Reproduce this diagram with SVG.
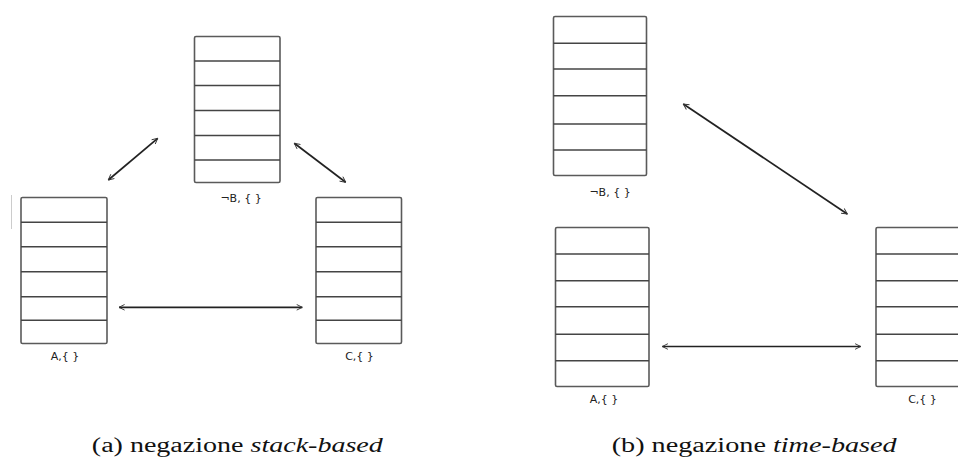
<svg xmlns="http://www.w3.org/2000/svg" width="958" height="457" viewBox="0 0 958 457">
  <defs>
    <marker id="head" viewBox="0 0 10 10" refX="9" refY="5" markerWidth="7" markerHeight="7" orient="auto-start-reverse" markerUnits="userSpaceOnUse">
      <path d="M1,1 L9,5 L1,9" fill="none" stroke="#333" stroke-width="1.3"/>
    </marker>
  </defs>
  <style>
    .box { fill: #fff; stroke: #5a5a5a; stroke-width: 1.6; }
    .row { stroke: #444; stroke-width: 1.6; }
    .lbl { font-family: "DejaVu Sans", "Liberation Sans", sans-serif; font-size: 11px; fill: #222; text-anchor: middle; }
    .edge { stroke: #222; stroke-width: 1.7; fill: none; marker-start: url(#head); marker-end: url(#head); }
    .cap { font-family: "Liberation Serif", "Times New Roman", serif; font-size: 20px; fill: #111; text-anchor: middle; }
  </style>
  <rect width="958" height="457" fill="#fff"/>

  <!-- (a) stack-based -->
  <g id="a-stack-B">
    <rect class="box" x="194.5" y="36.5" width="85.5" height="146" rx="1.5"/>
    <line class="row" x1="194.5" y1="61" x2="280" y2="61"/>
    <line class="row" x1="194.5" y1="85.5" x2="280" y2="85.5"/>
    <line class="row" x1="194.5" y1="110.5" x2="280" y2="110.5"/>
    <line class="row" x1="194.5" y1="135.5" x2="280" y2="135.5"/>
    <line class="row" x1="194.5" y1="160" x2="280" y2="160"/>
    <text class="lbl" x="241" y="202">¬B, { }</text>
  </g>
  <g id="a-stack-A">
    <line x1="11.5" y1="195" x2="11.5" y2="229" stroke="#ccc" stroke-width="1"/>
    <rect class="box" x="21" y="197.5" width="86" height="146" rx="1.5"/>
    <line class="row" x1="21" y1="222.3" x2="107" y2="222.3"/>
    <line class="row" x1="21" y1="246.7" x2="107" y2="246.7"/>
    <line class="row" x1="21" y1="271.7" x2="107" y2="271.7"/>
    <line class="row" x1="21" y1="296.7" x2="107" y2="296.7"/>
    <line class="row" x1="21" y1="320.3" x2="107" y2="320.3"/>
    <text class="lbl" x="65" y="360">A,{ }</text>
  </g>
  <g id="a-stack-C">
    <rect class="box" x="316" y="197.5" width="85.5" height="146" rx="1.5"/>
    <line class="row" x1="316" y1="222.3" x2="401.5" y2="222.3"/>
    <line class="row" x1="316" y1="246.7" x2="401.5" y2="246.7"/>
    <line class="row" x1="316" y1="271.7" x2="401.5" y2="271.7"/>
    <line class="row" x1="316" y1="296.7" x2="401.5" y2="296.7"/>
    <line class="row" x1="316" y1="320.3" x2="401.5" y2="320.3"/>
    <text class="lbl" x="359.5" y="360">C,{ }</text>
  </g>

  <!-- (b) time-based -->
  <g id="b-stack-B">
    <rect class="box" x="553.5" y="16.5" width="93" height="159" rx="1.5"/>
    <line class="row" x1="553.5" y1="43.3" x2="646.5" y2="43.3"/>
    <line class="row" x1="553.5" y1="69" x2="646.5" y2="69"/>
    <line class="row" x1="553.5" y1="95.7" x2="646.5" y2="95.7"/>
    <line class="row" x1="553.5" y1="124" x2="646.5" y2="124"/>
    <line class="row" x1="553.5" y1="150" x2="646.5" y2="150"/>
    <text class="lbl" x="610" y="196">¬B, { }</text>
  </g>
  <g id="b-stack-A">
    <rect class="box" x="555.5" y="227.5" width="93.5" height="159" rx="1.5"/>
    <line class="row" x1="555.5" y1="254" x2="649" y2="254"/>
    <line class="row" x1="555.5" y1="280.7" x2="649" y2="280.7"/>
    <line class="row" x1="555.5" y1="306.7" x2="649" y2="306.7"/>
    <line class="row" x1="555.5" y1="334.3" x2="649" y2="334.3"/>
    <line class="row" x1="555.5" y1="360.7" x2="649" y2="360.7"/>
    <text class="lbl" x="604" y="403">A,{ }</text>
  </g>
  <g id="b-stack-C">
    <rect class="box" x="876" y="227.5" width="93.5" height="159" rx="1.5"/>
    <line class="row" x1="876" y1="254" x2="969.5" y2="254"/>
    <line class="row" x1="876" y1="280.7" x2="969.5" y2="280.7"/>
    <line class="row" x1="876" y1="306.7" x2="969.5" y2="306.7"/>
    <line class="row" x1="876" y1="334.3" x2="969.5" y2="334.3"/>
    <line class="row" x1="876" y1="360.7" x2="969.5" y2="360.7"/>
    <text class="lbl" x="922.5" y="403">C,{ }</text>
  </g>

  <!-- connectors -->
  <g id="connectors">
    <line class="edge" x1="108.3" y1="180" x2="157.7" y2="138.3"/>
    <line class="edge" x1="294.3" y1="143.3" x2="345.7" y2="182.3"/>
    <line class="edge" x1="119" y1="307.3" x2="302.3" y2="307.3"/>
    <line class="edge" x1="683.3" y1="104" x2="847.3" y2="214"/>
    <line class="edge" x1="662.3" y1="346.5" x2="860.7" y2="346.5"/>
  </g>

  <!-- captions -->
  <text class="cap" x="237.3" y="452" textLength="291" lengthAdjust="spacingAndGlyphs">(a) negazione <tspan font-style="italic">stack-based</tspan></text>
  <text class="cap" x="754.2" y="452" textLength="285" lengthAdjust="spacingAndGlyphs">(b) negazione <tspan font-style="italic">time-based</tspan></text>
</svg>
